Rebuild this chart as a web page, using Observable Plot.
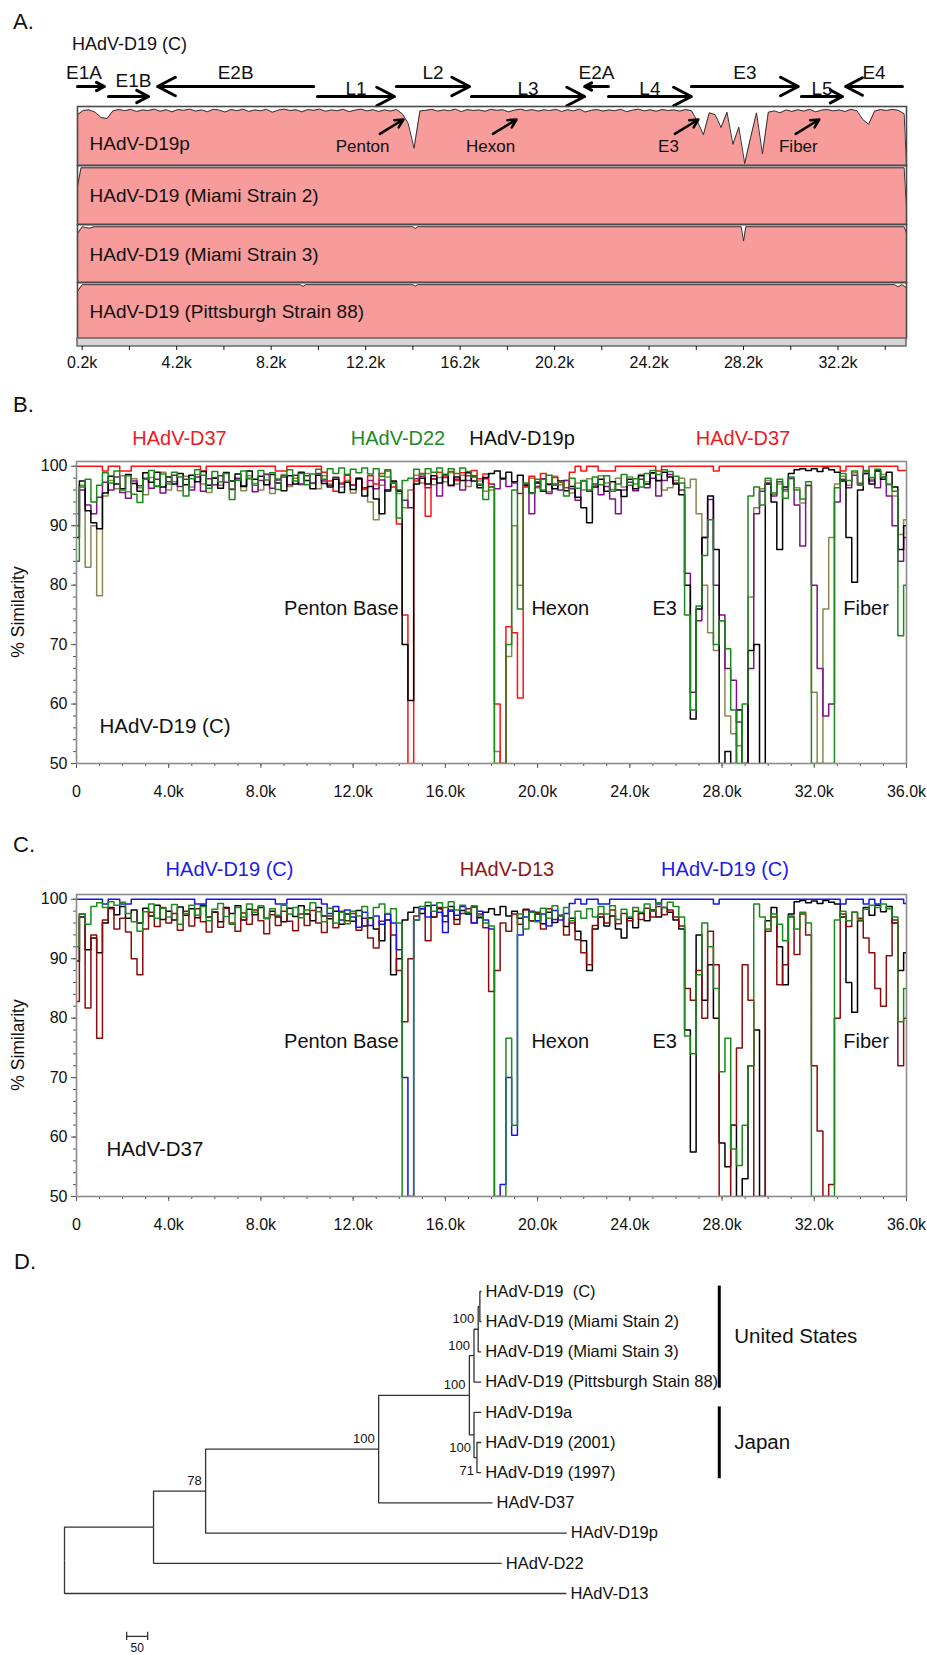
<!DOCTYPE html>
<html><head><meta charset="utf-8">
<script src="https://cdn.jsdelivr.net/npm/d3@7"></script>
<script src="https://cdn.jsdelivr.net/npm/@observablehq/plot@0.6"></script>
<style>
body{margin:0;background:#fff;}
#root{position:relative;width:927px;height:1655px;font-family:"Liberation Sans",Arial,sans-serif;color:#111;overflow:hidden;background:#fff}
.abs{position:absolute;white-space:nowrap;line-height:1}
</style></head><body><div id="root"></div>
<script>
// ---------------- DATA ----------------
// Panel A: genome map
const geneNames  = ["E1A","E1B","E2B","L1","L2","L3","E2A","L4","E3","L5","E4"];
const geneStart  = [0, 1310, 3390, 10160, 13500, 16680, 21470, 22480, 25990, 30650, 32520];
const geneEnd    = [1140, 3010, 10000, 13420, 16600, 21470, 22480, 25990, 30520, 32390, 34930];
const geneStrand = ["+","+","-","+","+","+","-","+","+","+","-"];
const geneRow    = ["upper","lower","upper","lower","upper","lower","upper","lower","upper","lower","upper"];

const trackNames = ["HAdV-D19p","HAdV-D19 (Miami Strain 2)","HAdV-D19 (Miami Strain 3)","HAdV-D19 (Pittsburgh Strain 88)"];
// track 1 (HAdV-D19p) similarity, every 250 bp from 0 to 35000, then end point 35100
const trackD19pPos = [...d3.range(0, 35001, 250), 35100];
const trackD19pVal = [
 96.5,98.8,99.0,97.8, 95.0,94.5,98.5,99.2, 98.6,99.3,98.2,99.0, 98.7,99.4,98.3,99.1,
 98.0,99.2,98.8,99.4, 98.4,99.0,98.1,99.3, 98.9,97.9,99.2,98.6, 99.4,98.2,99.0,98.5,
 99.3,97.8,98.9,99.4, 98.7,99.1,98.0,99.2, 98.8,99.4,98.3,99.0, 98.6,99.3,98.1,98.9,
 99.4,98.5,99.1,98.2, 99.0,98.4,99.2,97.0, 92.0,79.0,98.5,98.8, 99.3,98.4,99.0,98.6,
 99.4,98.1,99.2,98.7, 99.0,98.3,99.3,98.8, 99.1,98.0,98.9,99.4, 98.6,99.2,98.4,99.0,
 98.7,99.3,98.2,99.1, 98.5,99.4,97.9,98.8, 99.2,98.4,99.0,98.6, 99.3,98.1,98.9,99.4,
 98.5,99.1,98.3,99.2, 98.7,99.0,98.4,99.2, 98.6,93.0,86.0,97.5, 96.5,89.8,97.8,81.0,
 90.0,71.0,84.6,97.5, 76.0,97.8,98.5,97.5, 99.0,98.2,99.1,98.4, 99.3,98.0,98.9,99.2,
 98.5,99.0,98.2,99.3, 98.6,94.0,91.5,98.4, 99.2,98.7,99.3,98.8, 97.0, 70.0];
const trackMiami2 = [[0,90],[150,99.6],[35000,99.6],[35100,78]];
const trackMiami3 = [[0,96],[200,99.6],[500,98.8],[700,99.6],[14200,99.6],[14300,98.6],[14400,99.6],[28100,99.6],[28200,92],[28300,99.6],[35000,99.6],[35100,96]];
const trackPitt88 = [[0,96],[200,99.6],[9450,99.6],[9550,98.6],[9650,99.6],[14200,99.6],[14300,98.8],[14400,99.6],[34600,99.6],[34750,98.4],[34900,99.6],[35100,98]];
const featureNames = ["Penton","Hexon","E3","Fiber"];
const featureAt    = [13800, 18590, 26290, 31410];   // genome position pointed at
const featureLabel = [12070, 17490, 25020, 30520];   // genome position of the label
const axisATicks = d3.range(200, 35000, 2000);

// Panels B and C: similarity plots, every 250 bp from 0 to 36000
const simPos = d3.range(0, 36001, 250);
const bRed = [100,100,100,100, 100,99.2,100,100, 99.2,99.2,100,100, 100,100,100,100, 100,100,100,100,
 100,100,99.2,100, 100,100,100,100, 100,100,100,100, 100,100,100,99.2, 99.2,100,100,100, 100,100,100,99,
 97.5,95.8,97.2,98.6, 96.8,97.9,96.2,98.4, 97.0,98.8,99.2,96.5, 90.3,75,50,97.5, 98.8,91.6,97.8,99.0,
 98.2,99.1,97.6,98.9, 98.4,99.3,97.9,98.7, 96.5,60,50,73, 72,61,96.5,98.3, 97.4,98.8,96.9,98.1,
 97.3,96.4,99.0,100, 99.2,100,100,99.2, 99.2,99.2,100,100, 100,100,100,100, 100,99.2,100,100,
 100,100,100,100, 100,100,100,99.2, 100,100,100,100, 100,100,100,100, 100,100,100,100,
 100,100,100,100, 100,100,100,100, 100,99.2,100,100, 100,99.2,100,100, 100,100,100,99.3, 99.3];
const bGreen = [84,96.5,97.8,94, 96.8,98.9,97.2,99.2, 96.0,98.4,95.3,93.9, 97.8,99.3,96.6,98.7,
 97.0,99.0,98.2,95.0, 97.9,99.4,98.5,96.3, 99.1,97.4,98.8,94.4, 97.6,99.2,98.0,96.8,
 99.3,97.7,98.9,96.1, 98.4,99.4,97.5,98.8, 96.9,98.7,99.5,97.8, 99.6,98.8,99.7,98.6,
 99.5,98.9,99.7,98.7, 99.6,98.3,99.4,97.2, 91.3,97.6,98.0,99.5, 98.7,99.6,99.0,99.7,
 98.5,99.6,98.8,99.7, 99.1,98.2,97.0,94.4, 96.5,50,50,70, 96,76,97.2,95.4,
 97.8,96.0,98.5,96.8, 97.4,95.0,98.0,96.3, 97.6,96.0,98.2,96.9, 98.4,95.8,97.0,98.6,
 96.8,97.9,96.5,98.8, 99.3,98.6,99.4,99.1, 98.3,97.2,75,59, 76.5,85,91,70,
 74,69.3,59,50, 60,95,96.5,93.5, 98,95.5,97.8,94.6, 98.2,96.0,94.5,97.4,
 50,50,50,50, 96.4,98.8,97.6,99.2, 96.8,99.3,98.1,99.5, 98.2,97.0,95.8,71.5, 80];
const bBlack = [88,97.5,92.5,90.5, 89.5,95.5,98.3,97.0, 96.2,98.6,97.1,95.8, 98.9,97.3,99.0,96.5,
 98.2,97.0,98.8,96.9, 98.5,97.4,99.1,96.8, 98.0,96.3,98.9,97.5, 98.7,96.6,99.2,97.8,
 98.3,96.9,98.6,97.2, 95.9,98.4,97.0,99.0, 97.6,96.2,98.5,97.1, 96.5,97.8,95.6,97.3,
 96.1,98.0,95.0,96.6, 94.5,92.0,96.0,97.5, 95.8,70,60.6,97.0, 98.0,97.0,98.4,97.2,
 98.6,96.8,98.2,97.6, 98.9,97.5,96.4,98.1, 98.8,99.2,98.0,99.0, 97.4,98.5,96.8,95.5,
 97.2,95.8,97.0,96.2, 97.5,95.9,96.6,94.8, 93.0,90.5,96.5,97.8, 95.8,97.4,96.0,94.9,
 97.8,96.2,98.4,97.0, 98.9,97.6,99.0,98.2, 97.0,95.2,80,57.5, 76,88,95,86,
 50,52,50,59, 50,69,70,50, 97,94,86,96.5, 98.8,99.4,99.6,99.3,
 99.6,99.1,99.7,99.4, 99.0,97.5,88,80.5, 96.0,98.8,97.0,99.2, 97.8,99.0,96.5,86, 90];
const bOlive = [92,96.8,83,90, 78.2,95.0,97.6,96.2, 98.4,95.7,97.9,96.4, 95.2,98.1,96.7,99.0,
 96.0,97.4,95.9,98.3, 96.5,98.6,97.0,95.6, 98.1,96.8,99.0,96.2, 97.8,95.9,98.4,97.1,
 96.0,98.7,95.4,97.9, 98.6,96.6,98.0,96.9, 98.8,97.1,96.2,98.4, 97.0,98.2,96.5,97.6,
 95.5,98.0,96.1,94.0, 91.0,96.8,98.2,97.3, 95.4,93.0,96.0,98.5, 97.2,98.8,96.9,98.1,
 97.4,98.9,97.0,98.5, 96.6,98.2,97.5,95.8, 96.0,52,50,68, 90,80,96.6,98.0,
 96.4,97.8,95.7,98.3, 96.9,97.6,95.5,97.2, 96.0,97.9,96.8,98.4, 97.2,96.1,98.0,96.5,
 98.2,97.0,98.6,97.4, 98.8,97.5,96.0,96.4, 97.6,98.0,96.4,97.8, 92,80,72,69,
 74,58,55,53, 50,78,93,96.2, 97.6,95.3,97.0,95.8, 97.9,96.4,93.8,96.7,
 62,50,76,88, 97.0,98.3,96.8,98.9, 97.2,99.1,97.8,99.3, 98.6,96.9,95.0,88.5, 91];
const bPurple = [90,96.0,93.5,92.0, 94.8,97.3,96.0,98.2, 95.6,94.6,97.5,96.7, 98.0,96.3,97.8,95.5,
 97.4,98.5,96.6,97.8, 96.0,98.2,95.8,97.9, 96.9,98.4,97.3,96.1, 98.0,96.7,97.9,95.7,
 97.6,98.6,96.3,97.7, 98.2,96.9,98.5,97.0, 98.4,97.2,98.8,97.5, 96.8,98.1,97.0,98.5,
 96.9,97.8,96.4,97.6, 96.2,97.7,95.8,97.2, 96.0,94.3,93.0,97.9, 98.3,96.4,97.9,95.0,
 98.1,96.7,97.8,96.0, 97.6,98.4,96.8,97.9, 97.0,96.2,97.8,96.6, 97.2,95.4,97.0,92.0,
 96.6,97.9,95.4,97.0, 96.0,97.6,96.2,94.3, 97.5,95.8,97.0,95.2, 96.6,94.5,92.0,96.0,
 97.3,95.9,97.8,96.4, 98.0,95.0,97.6,98.6, 97.2,96.0,82,62, 74,88,94.4,80,
 75,66,64,57, 50,66,92,95.8, 97.2,95.0,97.4,96.1, 98.0,93.5,86.6,96.8,
 80,66,58,60, 94,97.8,96.4,98.5, 97.0,98.8,97.5,96.4, 98.2,95.0,90.0,84, 88];

const cBlue = [100,100,100,100, 100,99.2,100,100, 99.2,99.2,100,100, 100,100,100,100, 100,100,100,100,
 100,99.2,99.2,100, 100,100,100,100, 100,100,100,100, 100,100,100,99.2, 99.2,100,100,100, 100,100,100,99.2,
 97.6,98.8,96.5,98.2, 97.0,95.3,97.8,95.6, 97.2,95.8,97.5,96.0, 91.5,70,50,96.5, 98.4,97.0,99.0,97.8,
 94.4,98.2,97.3,98.8, 97.6,96.0,98.0,96.5, 95.0,50,52,70, 60.3,94.0,97.0,98.0, 96.4,97.5,95.5,98.1,
 96.5,97.6,99.3,100, 99.2,100,100,99.2, 99.2,100,100,100, 100,100,100,100, 100,99.2,100,100,
 100,100,100,100, 100,100,100,99.2, 100,100,100,100, 100,100,100,100, 100,100,100,100,
 100,100,100,100, 100,100,100,100, 100,99.2,100,100, 100,99.2,100,99.2, 100,100,100,100, 99.3];
const cMaroon = [82.8,97.5,81.7,94, 76.6,96.5,98.4,95.0, 96.8,94.5,90.0,87.3, 95.0,97.8,95.4,98.6,
 96.0,97.6,94.8,98.0, 95.5,98.4,96.2,94.5, 97.9,95.3,98.5,96.0, 94.6,97.7,95.8,98.2,
 96.4,94.2,97.4,95.6, 98.0,96.3,94.7,97.5, 95.6,98.1,96.0,94.4, 97.2,95.2,98.0,96.4,
 97.6,94.8,96.8,93.5, 91.8,96.3,97.5,94.0, 88,79.4,90,97.2, 98.4,93.0,97.0,98.6,
 96.2,98.0,95.8,97.6, 98.4,96.0,97.5,95.2, 84.5,88,96.0,94.6, 97.5,95.8,98.2,96.4,
 97.8,95.0,98.4,96.6, 97.2,94.0,96.0,93.2, 91.0,89.0,95.6,97.5, 96.0,98.2,95.9,97.6,
 96.4,98.0,96.6,98.5, 97.0,98.8,97.4,98.2, 97.0,95.5,85,83, 88,80,94.6,89,
 50,50,62,75, 89,83,50,50, 94.6,97.0,85.6,89, 97.0,90.7,97.5,94,
 72,61,50,52, 80,97.5,95.4,97.8, 96.8,93.5,91.0,85, 82,90.5,96.5,72, 80];
const cGreen = [92,97.5,95.8,98.8, 99.4,98.6,99.6,99.0, 99.5,97.6,96.2,94.6, 97.9,99.2,96.8,98.5,
 97.0,99.1,95.8,97.6, 99.0,97.3,98.8,96.4, 98.3,99.3,97.1,95.8, 98.6,97.0,99.2,97.8,
 98.9,96.7,98.4,97.3, 99.0,97.5,98.6,96.9, 98.2,99.4,97.9,96.2, 98.5,96.0,97.8,95.9,
 98.0,97.2,98.8,96.8, 98.6,99.2,97.6,98.4, 96.0,50,50,96.5, 98.8,99.5,98.0,99.4,
 98.6,99.6,98.2,99.0, 97.8,98.9,97.2,96.0, 95.5,50,50,76.6, 62,97.5,95.0,97.8,
 96.2,98.5,96.8,98.9, 97.2,98.6,96.4,98.0, 96.8,98.4,97.0,98.8, 97.5,98.9,96.6,98.3,
 97.0,98.6,97.8,99.2, 98.0,99.4,98.6,99.5, 98.8,97.0,77,74, 87.3,96.0,92.0,85,
 71,76.6,58,55.2, 62,72,99.2,97.0, 95.0,97.5,95.8,93.0, 97.2,95.0,97.8,96.0,
 50,50,50,50, 96.5,98.0,96.4,97.8, 96.5,98.3,99.0,98.6, 99.2,98.4,97.0,79.4, 85];
const cBlack = [89.6,97.0,91.5,93.5, 91.0,96.0,98.6,97.4, 98.8,96.8,98.2,96.0, 98.5,97.2,99.0,96.6,
 98.0,96.5,98.7,97.3, 98.4,96.9,99.0,97.0, 97.8,96.2,98.6,97.6, 98.9,96.5,98.3,97.4,
 98.6,96.8,98.0,97.0, 96.2,98.5,97.1,98.9, 97.5,96.4,98.6,97.2, 96.7,98.0,95.8,97.5,
 96.3,98.1,95.5,96.9, 95.0,93.0,96.5,87.3, 90.0,96.5,97.8,98.6, 97.6,98.9,97.0,98.4,
 97.2,98.8,96.6,98.1, 97.5,98.7,96.9,97.8, 98.4,97.4,98.8,97.2, 98.0,96.8,98.3,96.4,
 97.5,95.9,97.8,96.1, 97.3,95.4,96.8,94.6, 93.0,88.0,95.0,97.0, 95.5,97.2,95.0,93.5,
 96.8,95.2,97.6,96.4, 98.2,97.0,98.6,97.8, 96.5,95.0,78,57.5, 94,83,89,80,
 59,55,62,50, 53,72,78,50, 96.4,98.6,92,85.6, 97.5,99.6,99.8,99.4,
 99.7,99.3,99.8,99.5, 99.2,97.0,86,81, 96.4,98.6,97.3,99.0, 97.9,98.8,96.0,88, 91];

const annotNames = ["Penton Base","Hexon","E3","Fiber"];
const annotPos   = [13970, 19730, 24980, 33260];

const legendB = ["HAdV-D37","HAdV-D22","HAdV-D19p","HAdV-D37"];
const legendBColors = ["#ea1c24","#1e8a28","#111111","#ea1c24"];
const legendC = ["HAdV-D19 (C)","HAdV-D13","HAdV-D19 (C)"];
const legendCColors = ["#1c1ce6","#8b1a1a","#1c1ce6"];

// Panel D: phylogenetic tree (branch lengths in tree units; scale bar = 50)
const nodeId     = ["root","n1","n2","n3","n4","US","US2","US3","C","M2","M3","Pitt","JP","D19a","JP2","Y2001","Y1997","D37","D19p","D22","D13"];
const nodeParent = ["",   "root","n1","n2","n3","n4","US","US2","US3","US3","US2","US","n4","JP","JP","JP2","JP2","n3","n2","n1","root"];
const nodeLength = [0,    212,  124,  412,  216,  11,   10,   4,    4,    4,    7,    17,   11,   17,   7,    10,   10,   271,  860,  829,  1195];
const nodeSupport= [null, null, 78,   100,  100,  100,  100,  null, null, null, null, null, 100,  null, 71,   null, null, null, null, null, null];
const leafLabel  = {C:"HAdV-D19  (C)", M2:"HAdV-D19 (Miami Stain 2)", M3:"HAdV-D19 (Miami Stain 3)", Pitt:"HAdV-D19 (Pittsburgh Stain 88)",
  D19a:"HAdV-D19a", Y2001:"HAdV-D19 (2001)", Y1997:"HAdV-D19 (1997)", D37:"HAdV-D37", D19p:"HAdV-D19p", D22:"HAdV-D22", D13:"HAdV-D13"};
const groupNames = ["United States","Japan"];
const groupFirst = ["C","D19a"];
const groupLast  = ["Pitt","Y1997"];
const scaleBarLength = 50;

// ---------------- DRAWING ----------------
const W = 927;
const FONT = '"Liberation Sans", Arial, Helvetica, sans-serif';
const root = document.getElementById("root");
function addText(txt, x, y, size, color, center, rotate) {
  const d = document.createElement("div");
  d.className = "abs";
  d.textContent = txt;
  d.style.left = x + "px"; d.style.top = y + "px";
  d.style.fontSize = size + "px"; d.style.color = color || "#111";
  d.style.transform = rotate ? "translate(-50%,-50%) rotate(-90deg)" : (center ? "translate(-50%,-50%)" : "translateY(-50%)");
  root.appendChild(d);
}
function addPlot(svg, top) {
  svg.style.position = "absolute"; svg.style.left = "0px"; svg.style.top = top + "px";
  root.appendChild(svg);
}
const baseStyle = {fontFamily: FONT, fontSize: "16px", color: "#111", background: "transparent", overflow: "visible"};

// ---- Panel A ----
addText("A.", 13, 22, 22);
addText("HAdV-D19 (C)", 72, 44, 18);
const genes = geneNames.map((name, i) => ({name, start: geneStart[i], end: geneEnd[i], strand: geneStrand[i], row: geneRow[i], mid: (geneStart[i] + geneEnd[i]) / 2}));
const xA = {domain: [0, 35100], axis: null};
addPlot(Plot.plot({
  width: W, height: 50, marginLeft: 77, marginRight: 21, marginTop: 0, marginBottom: 0, style: baseStyle,
  x: xA, y: {type: "point", domain: ["upper","lower"], range: [31, 41], padding: 0, axis: null},
  marks: [
    Plot.arrow(genes, {x1: d => d.strand === "+" ? d.start : d.end, x2: d => d.strand === "+" ? d.end : d.start,
      y1: "row", y2: "row", stroke: "#000", strokeWidth: 3, headLength: 10, headAngle: 55}),
    Plot.text(genes.filter(d => d.row === "upper" && d.name !== "E1A"), {x: "mid", y: "row", text: "name", dy: -14, fontSize: 19}),
    Plot.text(genes.filter(d => d.name === "E1A"), {x: "mid", y: "row", text: "name", dy: -14, dx: -7, fontSize: 19}),
    Plot.text(genes.filter(d => d.row === "lower" && d.name !== "E1B"), {x: "mid", y: "row", text: "name", dy: -8, fontSize: 19}),
    Plot.text(genes.filter(d => d.name === "E1B"), {x: "mid", y: "row", text: "name", dy: -16, dx: 5, fontSize: 19})
  ]
}), 55);

const tracks = [
  trackD19pPos.map((p, i) => ({pos: p, val: trackD19pVal[i]})),
  trackMiami2.map(([pos, val]) => ({pos, val})),
  trackMiami3.map(([pos, val]) => ({pos, val})),
  trackPitt88.map(([pos, val]) => ({pos, val}))
];
const features = featureNames.map((name, i) => ({name, at: featureAt[i], label: featureLabel[i], from: featureAt[i] - 1000}));
const trackTops = [106, 165, 224, 282];
const trackHeights = [59, 59, 58, 56];
tracks.forEach((data, t) => {
  const marks = [
    Plot.areaY(data, {x: "pos", y1: 70, y2: "val", fill: "#f79b9b"}),
    Plot.line(data, {x: "pos", y: "val", stroke: "#333", strokeWidth: 1}),
    Plot.frame({stroke: "#4a4a4a", strokeWidth: 1.6}),
    Plot.text([trackNames[t]], {frameAnchor: "left", dx: 12, dy: t === 0 ? 8 : 1, fontSize: 19, fill: "#111"})
  ];
  if (t === 0) {
    marks.push(Plot.arrow(features, {x1: "from", y1: 86.5, x2: "at", y2: 94, stroke: "#000", strokeWidth: 2.5, headLength: 8, headAngle: 55}));
    marks.push(Plot.text(features, {x: "label", y: 80, text: "name", fontSize: 17}));
  }
  addPlot(Plot.plot({
    width: W, height: trackHeights[t], marginLeft: 77, marginRight: 21, marginTop: 0, marginBottom: 0, style: baseStyle,
    x: xA, y: {domain: [70, 100.8], axis: null}, marks
  }), trackTops[t]);
});
addPlot(Plot.plot({
  width: W, height: 42, marginLeft: 77, marginRight: 21, marginTop: 0, marginBottom: 34, style: baseStyle,
  x: {domain: [0, 35100]}, y: {axis: null},
  marks: [
    Plot.rect([0], {x1: 0, x2: 35100, fill: "#d4d4d4", stroke: "#6a6a6a", strokeWidth: 1.5}),
    Plot.axisX({ticks: axisATicks, tickSize: 4, tickPadding: 6, label: null, fontSize: 16,
      tickFormat: d => ((d - 200) % 4000 === 0) ? (d / 1000).toFixed(1) + "k" : ""})
  ]
}), 338);

// ---- Panels B and C ----
function simPanel(series, inLabel, inDx, inDy) {
  const annots = annotNames.map((name, i) => ({name, pos: annotPos[i]}));
  return Plot.plot({
    width: W, height: 383, marginLeft: 76, marginRight: 21, marginTop: 41, marginBottom: 40, style: baseStyle,
    x: {domain: [0, 36000]}, y: {domain: [50, 100.8]},
    marks: [
      Plot.axisX({ticks: d3.range(0, 36001, 1000), tickSize: 3, tickFormat: () => "", label: null, stroke: "#555"}),
      Plot.axisX({ticks: d3.range(0, 36001, 4000), tickSize: 5, tickPadding: 17, label: null, stroke: "#555", fontSize: 16,
        tickFormat: d => d === 0 ? "0" : (d / 1000).toFixed(1) + "k"}),
      Plot.axisY({ticks: d3.range(50, 101, 2), tickSize: 3, tickFormat: () => "", label: null, stroke: "#555"}),
      Plot.axisY({ticks: d3.range(50, 101, 10), tickSize: 5, tickPadding: 4, label: null, stroke: "#555", fontSize: 16}),
      ...series.map(s => Plot.line(simPos.map((p, i) => ({pos: p, val: s.values[i]})),
        {x: "pos", y: "val", stroke: s.color, strokeWidth: 1.5, curve: "step", clip: true})),
      Plot.frame({stroke: "#8c8c8c", strokeWidth: 1.6}),
      Plot.text(annots.filter(d => d.name === "Penton Base"), {x: "pos", y: 76, text: "name", textAnchor: "end", fontSize: 20}),
      Plot.text(annots.filter(d => d.name !== "Penton Base"), {x: "pos", y: 76, text: "name", textAnchor: "start", fontSize: 20}),
      Plot.text([inLabel], {frameAnchor: "bottom-left", dx: inDx, dy: inDy, fontSize: 20.5, textAnchor: "start"})
    ]
  });
}
addText("B.", 13, 405, 22);
[179.5, 398, 522, 743].forEach((x, i) => addText(legendB[i], x, 438, 20, legendBColors[i], true));
addText("% Similarity", 19, 612, 17.5, "#111", true, true);
addPlot(simPanel([
  {values: bOlive, color: "#8c8650"},
  {values: bPurple, color: "#80108a"},
  {values: bRed, color: "#ff1010"},
  {values: bBlack, color: "#000000"},
  {values: bGreen, color: "#1a8a1a"}
], "HAdV-D19 (C)", 23, -31), 420);

addText("C.", 13, 845, 22);
[229.5, 507, 725].forEach((x, i) => addText(legendC[i], x, 869, 20, legendCColors[i], true));
addText("% Similarity", 19, 1045, 17.5, "#111", true, true);
addPlot(simPanel([
  {values: cBlack, color: "#000000"},
  {values: cMaroon, color: "#8c0c0c"},
  {values: cBlue, color: "#1414f0"},
  {values: cGreen, color: "#1a8a1a"}
], "HAdV-D37", 30, -41), 853);

// ---- Panel D ----
addText("D.", 14, 1262, 22);
const tableD = nodeId.map((id, i) => ({id, parent: nodeParent[i] || null, length: nodeLength[i], support: nodeSupport[i]}));
const hier = d3.stratify().id(d => d.id).parentId(d => d.parent)(tableD);
let leafIndex = 0;
hier.eachBefore(n => { n.x = (n.parent ? n.parent.x : 0) + n.data.length; });
hier.eachAfter(n => {
  if (!n.children) n.y = leafIndex++;
  else n.y = (n.children[0].y + n.children[n.children.length - 1].y) / 2;
});
const nodes = hier.descendants();
const links = nodes.filter(n => n.parent).map(n => ({x1: n.parent.x, y1: n.parent.y, x2: n.x, y2: n.y, id: n.data.id}));
const leaves = nodes.filter(n => !n.children).map(n => ({x: n.x, y: n.y, label: leafLabel[n.data.id]}));
const supports = nodes.filter(n => n.data.support != null).map(n => ({x: n.x, y: n.y, s: String(n.data.support), id: n.data.id}));
const byId = new Map(nodes.map(n => [n.data.id, n]));
const groups = groupNames.map((name, i) => ({name, y1: byId.get(groupFirst[i]).y - 0.18, y2: byId.get(groupLast[i]).y + 0.2,
  mid: (byId.get(groupFirst[i]).y + byId.get(groupLast[i]).y) / 2}));
const belowLabels = new Set(["JP","JP2"]);
const barX = 1559, barStart = 148, barY = 11.42;
addPlot(Plot.plot({
  width: W, height: 385, marginLeft: 64, marginRight: 0, marginTop: 0, marginBottom: 0, style: baseStyle,
  x: {domain: [0, 863 / 0.42], axis: null}, y: {domain: [0, 10], range: [21, 323], axis: null},
  marks: [
    Plot.link(links, {x1: "x1", y1: "y1", x2: "x2", y2: "y2", curve: "step-before", stroke: "#333", strokeWidth: 1.3}),
    Plot.text(leaves, {x: "x", y: "y", text: "label", dx: 4, textAnchor: "start", fontSize: 16.5}),
    Plot.text(supports.filter(d => !belowLabels.has(d.id)), {x: "x", y: "y", text: "s", dx: -4, dy: -10, textAnchor: "end", fontSize: 13}),
    Plot.text(supports.filter(d => belowLabels.has(d.id)), {x: "x", y: "y", text: "s", dx: -3, dy: 13, textAnchor: "end", fontSize: 13}),
    Plot.ruleX(groups, {x: () => barX, y1: "y1", y2: "y2", stroke: "#000", strokeWidth: 3}),
    Plot.text(groups, {x: () => barX, y: "mid", text: "name", dx: 15, textAnchor: "start", fontSize: 20.5}),
    Plot.link([scaleBarLength], {x1: () => barStart, x2: d => barStart + d, y1: () => barY, y2: () => barY, stroke: "#333", strokeWidth: 1.3}),
    Plot.ruleX([barStart, barStart + scaleBarLength], {y1: barY - 0.14, y2: barY + 0.14, stroke: "#333", strokeWidth: 1.3}),
    Plot.text([scaleBarLength], {x: () => barStart + scaleBarLength / 2, y: () => barY + 0.38, text: d => String(d), fontSize: 12})
  ]
}), 1270);
</script></body></html>
